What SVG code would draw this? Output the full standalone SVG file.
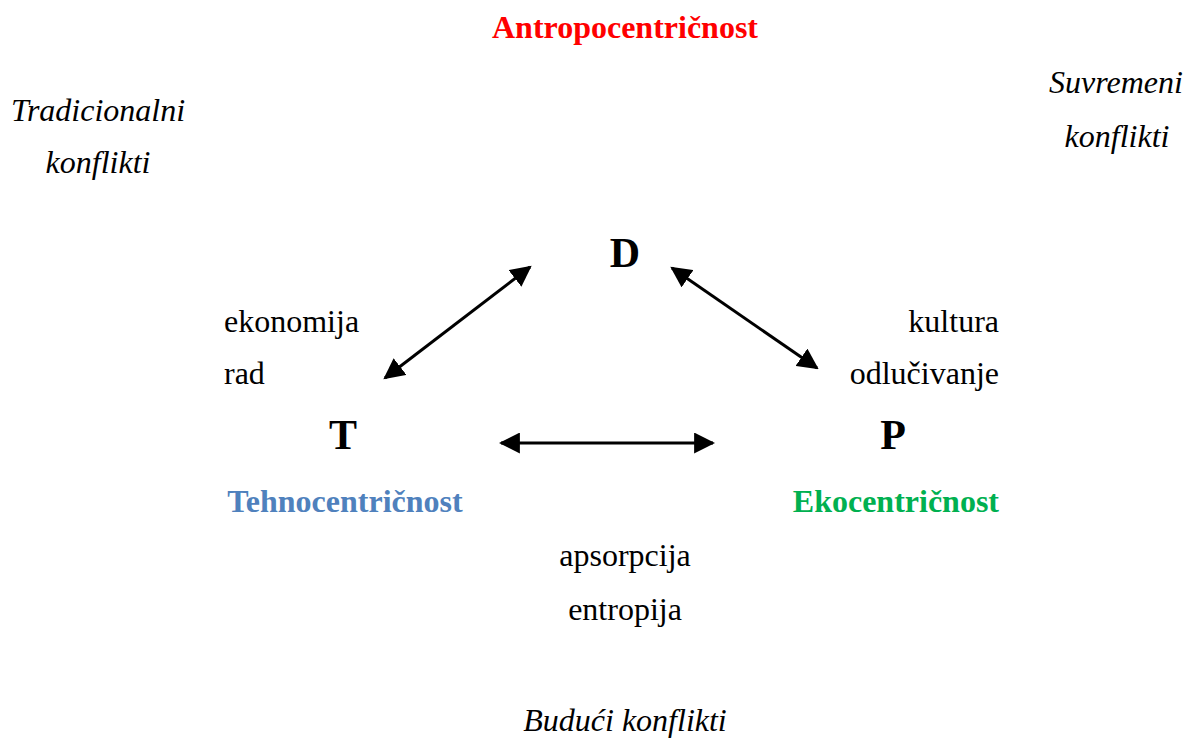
<svg xmlns="http://www.w3.org/2000/svg" width="1187" height="738" viewBox="0 0 1187 738">
<style>
text{font-family:"Liberation Serif","Times New Roman",serif;fill:#000}
.t{font-size:32px}
.i{font-size:32px;font-style:italic}
.b{font-size:32px;font-weight:bold}
.L{font-size:42px;font-weight:bold}
.c{stroke:#000;stroke-width:3;fill:none;marker-start:url(#ah);marker-end:url(#ah)}
</style>
<defs>
<marker id="ah" viewBox="0 0 10 10" refX="9" refY="5" markerWidth="7" markerHeight="7" markerUnits="strokeWidth" orient="auto-start-reverse">
<path d="M0,0 L10,5 L0,10 z" fill="#000"/>
</marker>
</defs>
<g id="connectors">
<line class="c" x1="385" y1="378" x2="530" y2="267"/>
<line class="c" x1="672" y1="268" x2="817" y2="368"/>
<line class="c" x1="501" y1="443" x2="713" y2="443"/>
</g>
<g id="title"><text class="b" x="625" y="38" text-anchor="middle" style="fill:#FF0000">Antropocentričnost</text></g>
<g id="tradicionalni"><text class="i" x="98" y="121" text-anchor="middle">Tradicionalni</text><text class="i" x="98" y="173" text-anchor="middle">konflikti</text></g>
<g id="suvremeni"><text class="i" x="1116" y="93" text-anchor="middle">Suvremeni</text><text class="i" x="1117" y="147" text-anchor="middle">konflikti</text></g>
<g id="node-D"><text class="L" x="625" y="267" text-anchor="middle">D</text></g>
<g id="node-T"><text class="L" x="343" y="449" text-anchor="middle">T</text><text class="b" x="345" y="512" text-anchor="middle" style="fill:#4F81BD">Tehnocentričnost</text></g>
<g id="node-P"><text class="L" x="893" y="449" text-anchor="middle">P</text><text class="b" x="999" y="512" text-anchor="end" style="fill:#00B050">Ekocentričnost</text></g>
<g id="label-TD"><text class="t" x="224" y="332">ekonomija</text><text class="t" x="224" y="384">rad</text></g>
<g id="label-DP"><text class="t" x="999" y="332" text-anchor="end">kultura</text><text class="t" x="999" y="384" text-anchor="end">odlučivanje</text></g>
<g id="label-TP"><text class="t" x="625" y="566" text-anchor="middle">apsorpcija</text><text class="t" x="625" y="620" text-anchor="middle">entropija</text></g>
<g id="future"><text class="i" x="625" y="731" text-anchor="middle">Budući konflikti</text></g>
</svg>
